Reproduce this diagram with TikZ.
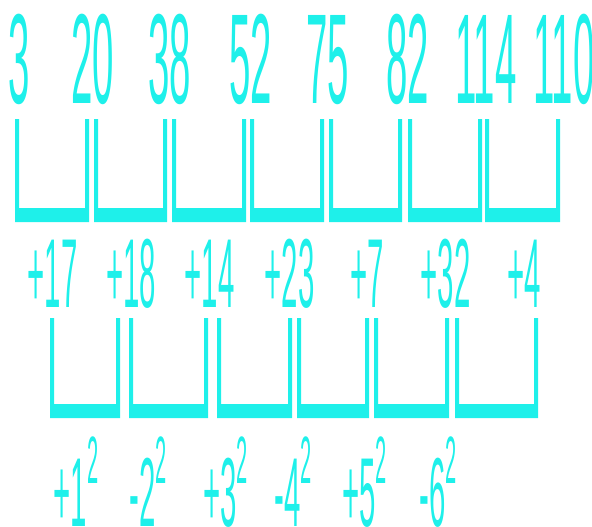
\documentclass[tikz,border=0pt]{standalone}
\usepackage{fontspec}
\setmainfont{Liberation Sans}
\usepackage{graphicx}
\definecolor{cy}{RGB}{30,240,234}
\newcommand\bigdg[1]{\scalebox{0.3}[1]{\fontsize{128}{128}\selectfont #1}}
\newcommand\middg[1]{\scalebox{0.3}[1]{\fontsize{98}{98}\selectfont #1}}
\newcommand\sqdg[2]{\scalebox{0.3}[1]{\fontsize{98}{98}\selectfont #1\raisebox{43pt}{\fontsize{67}{67}\selectfont #2}}}
\tikzset{lbl/.style={anchor=base,inner sep=0pt,text=cy}}
\begin{document}
\begin{tikzpicture}[x=1pt,y=-1pt]
\useasboundingbox (0,0) rectangle (592,527);
% top row numbers
\foreach \c/\t [count=\i] in {19/3,93/20,170/38,251/52,328/75,408/82,486/114,564/110}
  \node[lbl] (t\i) at (\c,103) {\bigdg{\t}};
% top brackets
\foreach \L/\R [count=\i] in {15/89,94/167,172/246,250/324,329/402,408/482,485/560}
  \fill[cy] (\L,119) -- (\L,222) -- (\R,222) -- (\R,119) -- (\R-4,119) -- (\R-4,208) -- (\L+4,208) -- (\L+4,119) -- cycle;
% second row differences
\foreach \c/\t [count=\i] in {52.5/+17,131/+18,209.5/+14,289.5/+23,367.5/+7,445.5/+32,524/+4}
  \node[lbl] (d\i) at (\c,307) {\middg{\t}};
% second brackets
\foreach \L/\R [count=\i] in {50/120,129/208,217/292,297/369,374/449,455/538}
  \fill[cy] (\L,318) -- (\L,418) -- (\R,418) -- (\R,318) -- (\R-4,318) -- (\R-4,404) -- (\L+4,404) -- (\L+4,318) -- cycle;
% third row
\foreach \c/\s/\n [count=\i] in {76/+/1,148.5/-/2,225.5/+/3,293.5/-/4,364.5/+/5,438.5/-/6}
  \node[lbl] (s\i) at (\c,526) {\sqdg{\s\n}{2}};
\end{tikzpicture}
\end{document}
